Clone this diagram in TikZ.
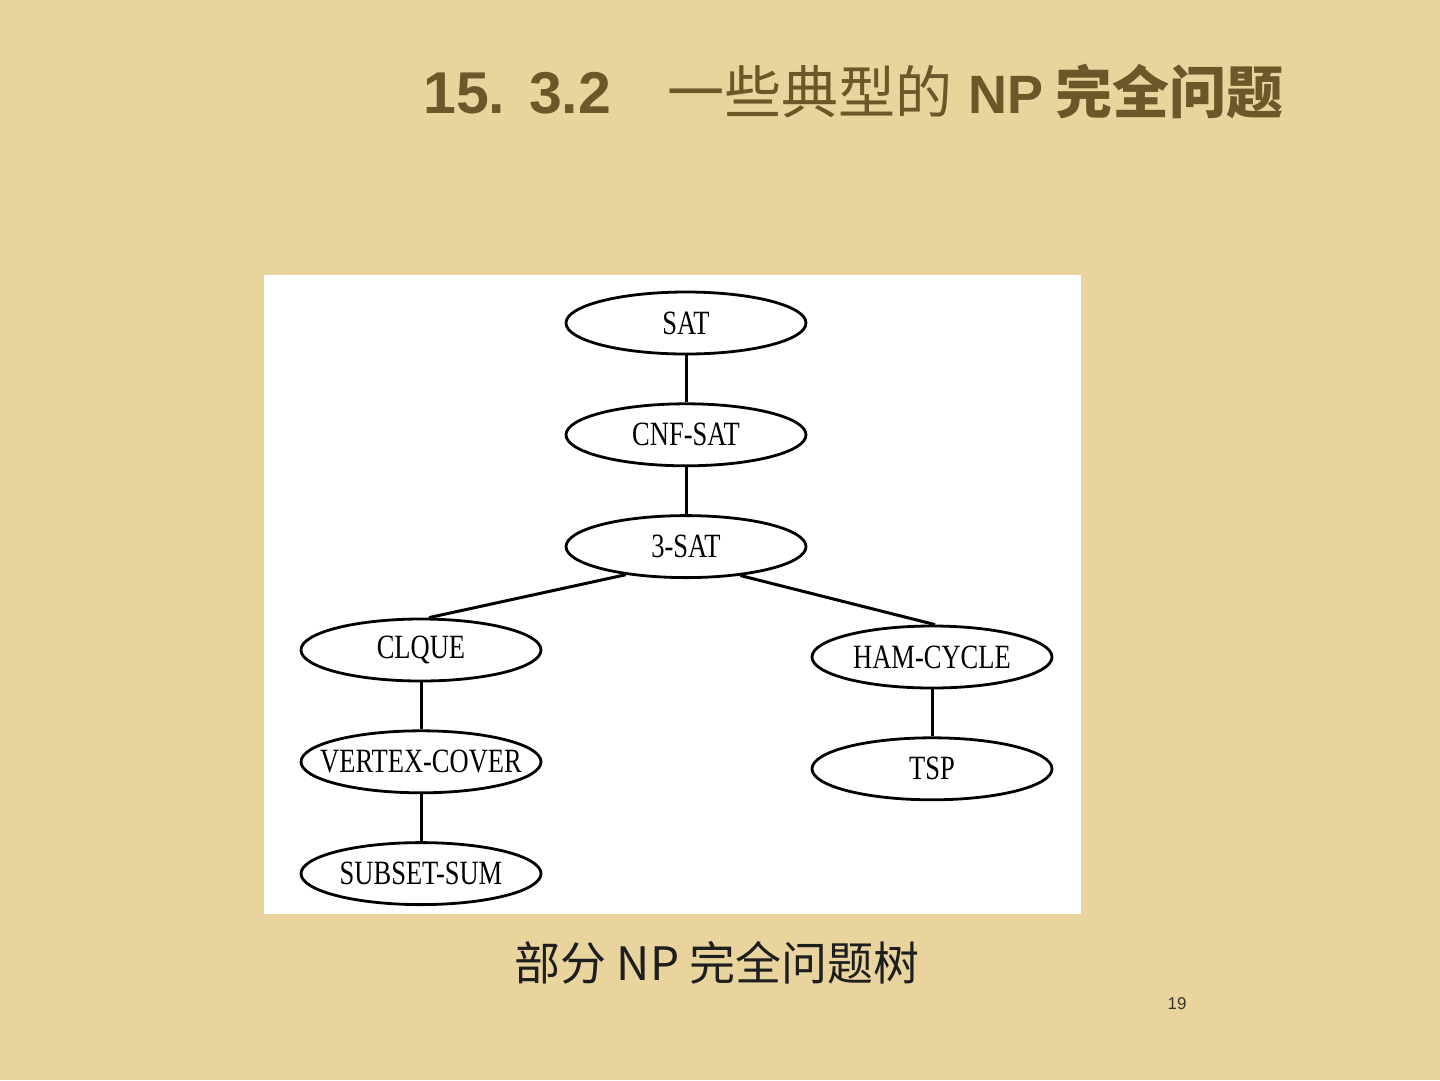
\documentclass[tikz,border=0pt]{standalone}
\usepackage{fontspec}
\setmainfont{Liberation Serif}
\setsansfont{Liberation Sans}
\newfontfamily\cjk{Noto Sans CJK SC}
\newfontfamily\probfont[FakeStretch=0.78]{Liberation Serif}
\usetikzlibrary{positioning,shapes.geometric}
\definecolor{npbg}{HTML}{E9D49D}
\definecolor{nptitle}{HTML}{6B5729}
\definecolor{npcap}{HTML}{1E1E1E}
\tikzset{
  probNode/.style={ellipse, draw=black, line width=2.8pt, fill=white, minimum width=240pt, minimum height=62pt, inner ysep=0pt, inner xsep=-25pt, font=\probfont\fontsize{34}{34}\selectfont},
  treeEdge/.style={line width=3pt, draw=black},
  slideText/.style={inner sep=0pt, anchor=base west}
}

\begin{document}
\begin{tikzpicture}[x=1pt, y=-1pt, node distance=47pt]
  \fill[npbg] (0,0) rectangle (1440,1080);
  \useasboundingbox (0,0) rectangle (1440,1080);
  \node[slideText, text=nptitle, font=\fontsize{54}{54}\selectfont] (title) at (423,113) {%
    {\sffamily\bfseries\fontsize{59}{59}\selectfont 15.\hspace{24pt}3.2}\hspace{56pt}{\cjk\fontsize{57}{57}\selectfont 一些典型的}\hspace{16pt}{\sffamily\bfseries NP}\hspace{12pt}{\cjk\bfseries\fontsize{57}{57}\selectfont 完全问题}};
  \fill[white] (264,275) rectangle (1081,914);
  % main chain
  \node[probNode] (sat) at (686,323) {SAT};
  \node[probNode, below=of sat] (cnfsat) {CNF-SAT};
  \node[probNode, below=of cnfsat] (threesat) {3-SAT};
  % left branch
  \node[probNode] (clique) at (421,650) {CLQUE};
  \node[probNode, below=of clique] (vcover) {VERTEX-COVER};
  \node[probNode, below=of vcover] (subsetsum) {SUBSET-SUM};
  % right branch
  \node[probNode] (hamcycle) at (932,657) {HAM-CYCLE};
  \node[probNode, below=of hamcycle] (tsp) {TSP};
  \foreach \a/\b in {sat/cnfsat,cnfsat/threesat,clique/vcover,vcover/subsetsum,hamcycle/tsp} \draw[treeEdge] (\a) -- (\b);
  \draw[treeEdge] (threesat.205) -- ([xshift=8pt]clique.north);
  \draw[treeEdge] (threesat.332) -- ([xshift=3pt]hamcycle.north);
  \node[slideText, anchor=base, text=npcap, font=\cjk\fontsize{46}{46}\selectfont] (caption) at (717,980) {部分 NP 完全问题树};
  \node[inner sep=0pt, text=npcap!90, font=\sffamily\fontsize{17}{17}\selectfont] (pagenum) at (1177,1004) {19};
\end{tikzpicture}
\end{document}
